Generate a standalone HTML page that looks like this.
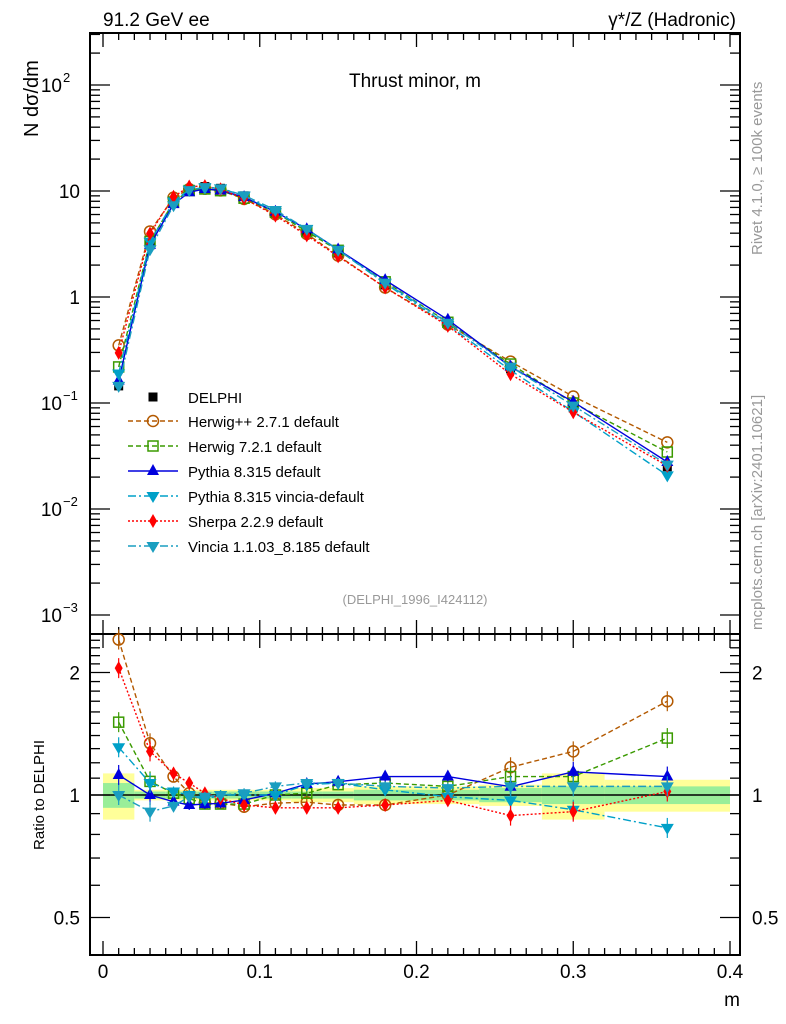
<!DOCTYPE html>
<html><head><meta charset="utf-8"><style>
body{margin:0;background:#fff;}
svg{display:block;font-family:"Liberation Sans",sans-serif;}
</style></head><body>
<svg id="c" width="786" height="1024" xmlns="http://www.w3.org/2000/svg"></svg>
<script>
const xs=[0.01,0.03,0.045,0.055,0.065,0.075,0.09,0.11,0.13,0.15,0.18,0.22,0.26,0.30,0.36];
const edges=[0,0.02,0.04,0.05,0.06,0.07,0.08,0.1,0.12,0.14,0.16,0.2,0.24,0.28,0.32,0.4];
const delphi=[0.145,3.1,7.8,10.3,11.0,10.6,9.0,6.3,4.1,2.6,1.3,0.55,0.21,0.09,0.025];
const greenBand=[0.07,0.02,0.02,0.02,0.02,0.02,0.02,0.02,0.02,0.02,0.03,0.03,0.04,0.05,0.05];
const yellowBand=[0.13,0.03,0.03,0.03,0.03,0.03,0.03,0.03,0.04,0.04,0.05,0.05,0.06,0.13,0.09];
const rHerwigpp=[2.41,1.34,1.11,1.01,0.955,0.955,0.936,0.955,0.96,0.945,0.945,1.0,1.17,1.28,1.70];
const rHerwig7=[1.51,1.08,1.01,0.98,0.95,0.95,0.95,1.0,1.01,1.06,1.07,1.05,1.11,1.11,1.38];
const rPythia=[1.12,1.0,0.963,0.945,0.95,0.954,0.972,1.01,1.064,1.078,1.11,1.11,1.048,1.14,1.11];
const rPyVincia=[1.31,1.07,1.02,1.0,0.975,1.0,1.0,1.0,1.06,1.07,1.03,0.99,0.97,0.92,0.83];
const rSherpa=[2.05,1.28,1.13,1.07,1.01,0.98,0.945,0.93,0.93,0.93,0.945,0.97,0.89,0.91,1.02];
const rVincia=[1.0,0.91,0.94,0.99,0.99,1.0,1.01,1.05,1.07,1.07,1.05,1.04,1.05,1.05,1.05];

const NS="http://www.w3.org/2000/svg";
const svg=document.getElementById('c');
function mk(tag,at,parent){const e=document.createElementNS(NS,tag);for(const k in at)e.setAttribute(k,at[k]);(parent||svg).appendChild(e);return e;}
const L=90,R=740,T=33,M=634,B=955;
const X=v=>103+v*1567.5;
const Y=v=>297-106*Math.log10(v);
const YR=v=>795-122.5*Math.log2(v);

const gb=mk('g',{});


for(let i=0;i<xs.length;i++){
  const x0=Math.max(X(edges[i]),L+1),x1=X(edges[i+1]);
  mk('rect',{x:x0,y:YR(1+yellowBand[i]),width:x1-x0,height:YR(1-yellowBand[i])-YR(1+yellowBand[i]),fill:'#ffff99'},gb);
  mk('rect',{x:x0,y:YR(1+greenBand[i]),width:x1-x0,height:YR(1-greenBand[i])-YR(1+greenBand[i]),fill:'#99ee99'},gb);
}
mk('line',{x1:L,x2:R,y1:YR(1),y2:YR(1),stroke:'#000','stroke-width':1.5});

const fr1=mk('rect',{x:L,y:T,width:R-L,height:M-T,fill:'none',stroke:'#000','stroke-width':2});

const fr2=mk('rect',{x:L,y:M,width:R-L,height:B-M,fill:'none',stroke:'#000','stroke-width':2});


for(let k=0;k<=40;k++){
  const v=k/100,x=X(v);if(x>R)break;
  const len=k%10==0?14:7;
  [T,M].forEach(y=>mk('line',{x1:x,x2:x,y1:y,y2:y+len,stroke:'#000','stroke-width':1.3}));
  [M,B].forEach(y=>mk('line',{x1:x,x2:x,y1:y,y2:y-len,stroke:'#000','stroke-width':1.3}));
}
const xl=['0','0.1','0.2','0.3','0.4'];
xl.forEach((t,i)=>{const e=mk('text',{x:X(i*0.1),y:978,'font-size':19,'text-anchor':'middle'});e.textContent=t;
});
const xt=mk('text',{x:740,y:1006,'font-size':19,'text-anchor':'end'});xt.textContent='m';


for(let d=-3;d<=2;d++){for(let m=1;m<10;m++){const v=m*Math.pow(10,d),y=Y(v);if(y<T||y>M)continue;
 const len=m==1?20:10;
 mk('line',{x1:L,x2:L+len,y1:y,y2:y,stroke:'#000','stroke-width':1.3});
 mk('line',{x1:R,x2:R-len,y1:y,y2:y,stroke:'#000','stroke-width':1.3});}}
const ylab=[[1e-3,'10','−3'],[1e-2,'10','−2'],[1e-1,'10','−1'],[1,'1',''],[10,'10',''],[100,'10','2']];
ylab.forEach(a=>{const e=mk('text',{x:a[2]?62:80,y:Y(a[0])+7,'font-size':19,'text-anchor':'end'});e.textContent=a[1];
 
 if(a[2]){const s=mk('text',{x:63,y:Y(a[0])-3,'font-size':13});s.textContent=a[2];}});
const yt=mk('text',{x:0,y:0,'font-size':20,transform:'translate(38,137) rotate(-90)'});yt.textContent='N  dσ/dm';


const rmaj=[0.5,1,2];
for(let v=0.4;v<=2.5;v+=0.1){const y=YR(v);if(y<M||y>B)continue;
 const isM=rmaj.some(m=>Math.abs(m-v)<1e-6);const len=isM?20:10;
 mk('line',{x1:L,x2:L+len,y1:y,y2:y,stroke:'#000','stroke-width':1.3});
 mk('line',{x1:R,x2:R-len,y1:y,y2:y,stroke:'#000','stroke-width':1.3});}
const rl=['0.5','1','2'];
rl.forEach((t,i)=>{[80,752].forEach((x,j)=>{const e=mk('text',{x:x,y:YR(rmaj[i])+7,'font-size':19,'text-anchor':j?'start':'end'});e.textContent=t;
 });});
const rt=mk('text',{x:0,y:0,'font-size':15,'text-anchor':'middle',transform:'translate(44,795) rotate(-90)'});rt.textContent='Ratio to DELPHI';


function tx(x,y,s,t,attrs,name){const e=mk('text',Object.assign({x:x,y:y,'font-size':s},attrs||{}));e.textContent=t;return e;}
tx(103,26,19,'91.2 GeV ee',{},'energy-label');
tx(736,26,19,'γ*/Z (Hadronic)',{'text-anchor':'end'},'process-label');
tx(415,87,19,'Thrust minor, m',{'text-anchor':'middle'},'plot-title');
tx(415,604,13,'(DELPHI_1996_I424112)',{'text-anchor':'middle',fill:'#999'},'analysis-id');
tx(0,0,15,'Rivet 4.1.0, ≥ 100k events',{fill:'#999',transform:'translate(762,255) rotate(-90)'},'rivet-label');
tx(0,0,15,'mcplots.cern.ch [arXiv:2401.10621]',{fill:'#999',transform:'translate(762,630) rotate(-90)'},'mcplots-label');

function marker(g,type,x,y,c){
 if(type=='circle')mk('circle',{cx:x,cy:y,r:5.5,fill:'none',stroke:c,'stroke-width':1.5},g);
 else if(type=='square')mk('rect',{x:x-5,y:y-5,width:10,height:10,fill:'none',stroke:c,'stroke-width':1.5},g);
 else if(type=='up')mk('polygon',{points:`${x},${y-7} ${x-6},${y+4} ${x+6},${y+4}`,fill:c},g);
 else if(type=='down')mk('polygon',{points:`${x},${y+7} ${x-6.5},${y-4} ${x+6.5},${y-4}`,fill:c},g);
 else if(type=='diamond')mk('polygon',{points:`${x},${y-7} ${x-4},${y} ${x},${y+7} ${x+4},${y}`,fill:c},g);
 else if(type=='sq')mk('rect',{x:x-4.5,y:y-4.5,width:9,height:9,fill:c},g);
}
const gd=mk('g',{});
xs.forEach((x,i)=>marker(gd,'sq',X(x),Y(delphi[i]),'#000'));
marker(svg,'sq',153,397,'#000');
tx(188,403,15,'DELPHI',{},'legend-entry');

const series=[
 {n:'herwigpp',r:rHerwigpp,c:'#b35900',d:'5,3',m:'circle',lab:'Herwig++ 2.7.1 default'},
 {n:'herwig7',r:rHerwig7,c:'#3a9a00',d:'5,3',m:'square',lab:'Herwig 7.2.1 default'},
 {n:'pythia',r:rPythia,c:'#0000dd',d:'',m:'up',lab:'Pythia 8.315 default'},
 {n:'pythia-vincia',r:rPyVincia,c:'#00a0c8',d:'8,3,2,3',m:'down',lab:'Pythia 8.315 vincia-default'},
 {n:'sherpa',r:rSherpa,c:'#ff0000',d:'2,2',m:'diamond',lab:'Sherpa 2.2.9 default'},
 {n:'vincia',r:rVincia,c:'#1a9ec0',d:'8,3,2,3',m:'down',lab:'Vincia 1.1.03_8.185 default'}];
series.forEach((s,si)=>{
 const g=mk('g',{});
 const p1=xs.map((x,i)=>X(x)+','+Y(delphi[i]*s.r[i])).join(' ');
 mk('polyline',{points:p1,fill:'none',stroke:s.c,'stroke-width':1.4,'stroke-dasharray':s.d},g);
 const p2=xs.map((x,i)=>X(x)+','+YR(s.r[i])).join(' ');
 mk('polyline',{points:p2,fill:'none',stroke:s.c,'stroke-width':1.4,'stroke-dasharray':s.d},g);
 xs.forEach((x,i)=>{marker(g,s.m,X(x),Y(delphi[i]*s.r[i]),s.c);
  const yy=YR(s.r[i]);const el=(i<2||i>11)?10:5;
  mk('line',{x1:X(x),x2:X(x),y1:yy-el,y2:yy+el,stroke:s.c,'stroke-width':1.2},g);
  marker(g,s.m,X(x),yy,s.c);});
 const ly=421+si*25;
 mk('line',{x1:128,x2:178,y1:ly,y2:ly,stroke:s.c,'stroke-width':1.4,'stroke-dasharray':s.d});
 marker(svg,s.m,153,ly,s.c);
 tx(188,ly+6,15,s.lab,{},'legend-entry');
});
</script>
</body></html>
